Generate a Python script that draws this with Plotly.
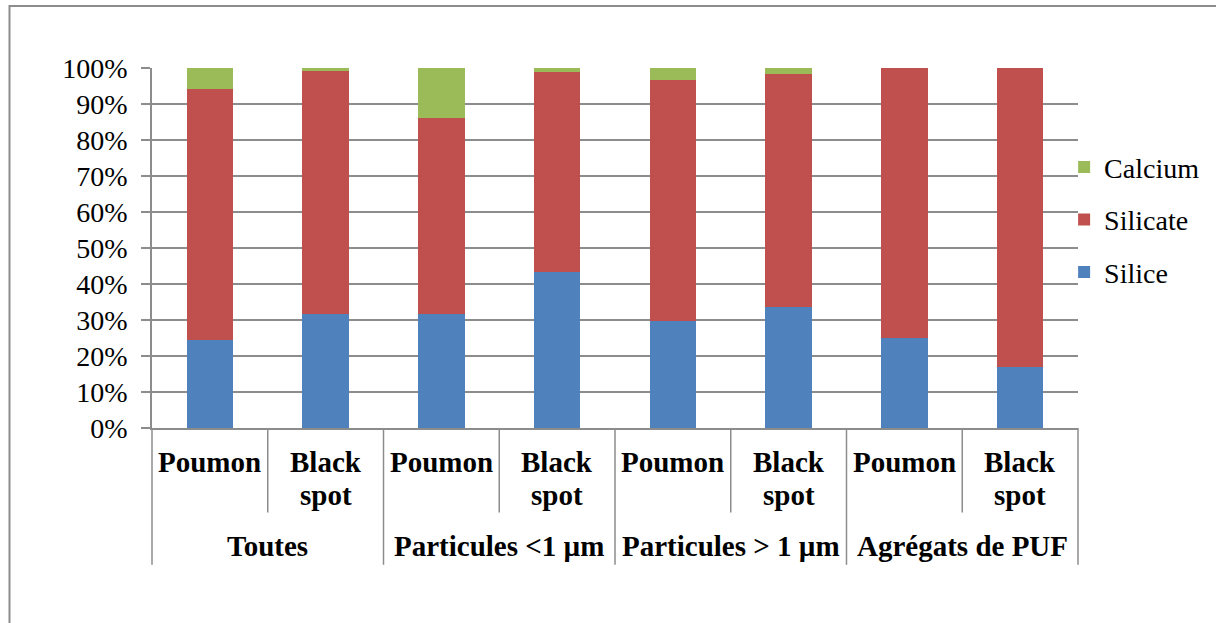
import plotly.graph_objects as go

groups = ["Toutes", "Particules <1 µm", "Particules > 1 µm", "Agrégats de PUF"]
subs = ["Poumon", "Black<br>spot"]
silice = [24.5, 31.7, 31.7, 43.3, 29.6, 33.7, 25.1, 16.9]
silicate = [69.7, 67.6, 54.4, 55.5, 67.2, 64.6, 74.9, 83.1]
calcium = [5.8, 0.7, 13.9, 1.2, 3.2, 1.7, 0.0, 0.0]
yticks = [0, 10, 20, 30, 40, 50, 60, 70, 80, 90, 100]

keys = [f"{g}|{s}" for g in groups for s in subs]
inner = [s for g in groups for s in subs]
n = len(keys)

FONT = "Liberation Serif"
GRID = "#8c8c8c"
PLOT_H = 360.0  # plot height in px (623 - 68 - 195)

fig = go.Figure()
for name, vals, col, rank in [("Silice", silice, "#4F81BD", 3),
                              ("Silicate", silicate, "#C0504D", 2),
                              ("Calcium", calcium, "#9BBB59", 1)]:
    fig.add_trace(go.Bar(x=keys, y=vals, name=name, marker_color=col,
                         marker_line_width=0, width=0.4, legendgroup=name,
                         legendrank=rank))

fig.update_layout(
    barmode="stack",
    width=1216, height=623,
    margin=dict(l=152, r=138, t=68, b=195, autoexpand=False),
    paper_bgcolor="white", plot_bgcolor="white",
    font=dict(family=FONT, size=28, color="black"),
    showlegend=True,
    legend=dict(x=0.985, xanchor="left", y=0.578, yanchor="middle",
                traceorder="grouped", tracegroupgap=13,
                font=dict(family=FONT, size=28), itemwidth=30,
                bgcolor="rgba(0,0,0,0)"),
)
fig.update_xaxes(type="category", showticklabels=False, showgrid=False,
                 showline=True, linecolor=GRID, linewidth=1.5, ticks="",
                 range=[-0.5, n - 0.5], fixedrange=True)
fig.update_yaxes(range=[0, 100], tickvals=yticks,
                 ticktext=[f"{v}%" for v in yticks],
                 showgrid=True, gridcolor=GRID, gridwidth=1.5,
                 showline=True, linecolor=GRID, linewidth=1.5,
                 ticks="outside", ticklen=9, tickcolor=GRID, tickwidth=1.5,
                 ticklabelstandoff=8, zeroline=False, fixedrange=True,
                 tickfont=dict(family=FONT, size=28))

# vertical separators of the two-level category axis
for k in range(n + 1):
    is_group = (k % len(subs) == 0)
    fig.add_shape(type="line", xref="paper", yref="paper",
                  x0=k / n, x1=k / n, y0=0,
                  y1=-0.380 if is_group else -0.235,
                  line=dict(color=GRID, width=1.5))

# inner labels (one annotation per text line)
for key, lab in zip(keys, inner):
    for li, line in enumerate(lab.split("<br>")):
        fig.add_annotation(x=key, xref="x", y=-0.045 - li * 33 / PLOT_H,
                           yref="paper", yanchor="top", text=f"<b>{line}</b>",
                           showarrow=False, font=dict(family=FONT, size=29))
# outer labels
for gi, g in enumerate(groups):
    center = gi * len(subs) + (len(subs) - 1) / 2
    fig.add_annotation(x=center, xref="x", y=-0.278, yref="paper",
                       yanchor="top", text=f"<b>{g}</b>", showarrow=False,
                       font=dict(family=FONT, size=29))

# chart frame
fig.add_shape(type="rect", xref="paper", yref="paper",
              x0=(9.5 - 152) / 926, x1=(1240 - 152) / 926,
              y0=(428 - 650) / PLOT_H, y1=(428 - 6) / PLOT_H,
              line=dict(color="#8c8c8c", width=2), fillcolor="rgba(0,0,0,0)",
              layer="below")

fig.write_html("out.html", config={"displayModeBar": False},
               post_script="document.body.style.margin='0';"
                           "document.body.style.overflow='hidden';")
